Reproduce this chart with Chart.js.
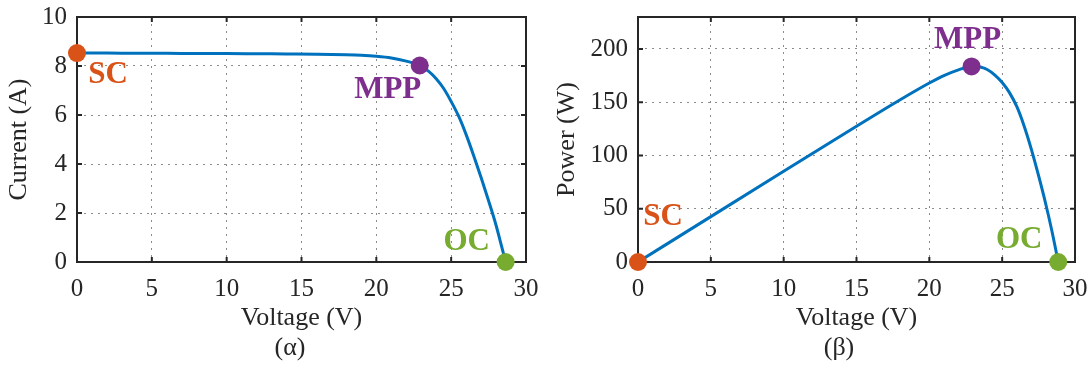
<!DOCTYPE html>
<html><head><meta charset="utf-8">
<script src="https://cdn.jsdelivr.net/npm/chart.js@4.4.1/dist/chart.umd.min.js"></script>
<style>
html,body{margin:0;padding:0;background:#fff;}
#wrap{position:relative;width:1091px;height:367px;overflow:hidden;background:#fff;}
canvas{position:absolute;top:0;}
</style></head><body>
<div id="wrap">
<canvas id="iv" width="545" height="367" style="left:0"></canvas>
<canvas id="pv" width="546" height="367" style="left:545px"></canvas>
</div>
<script>
// ---- data ----
const voltageTicks = [0, 5, 10, 15, 20, 25, 30];
const currentTicks = [0, 2, 4, 6, 8, 10];
const powerTicks = [0, 50, 100, 150, 200];

const ivVoltage = [0, 2, 4, 6, 8, 10, 12, 14, 16, 18, 19, 20, 21, 22, 22.9, 23.5, 24, 24.5, 25, 25.5, 26, 26.5, 27, 27.5, 28, 28.3, 28.64];
const ivCurrent = [8.53, 8.53, 8.52, 8.52, 8.51, 8.51, 8.50, 8.49, 8.48, 8.46, 8.44, 8.40, 8.33, 8.20, 8.02, 7.78, 7.48, 7.08, 6.55, 5.95, 5.2, 4.35, 3.45, 2.5, 1.5, 0.8, 0];

const pvVoltage = [0, 5, 10, 15, 18, 20, 21, 22, 22.9, 23.5, 24, 24.5, 25, 25.5, 26, 26.5, 27, 27.5, 28, 28.4, 28.85];
const pvPower = [0, 42.6, 85.1, 127.4, 152.3, 168, 175, 180.4, 183.6, 183, 180.5, 175.5, 168.5, 159, 146, 128, 106, 81, 54, 30, 0];

const pointNames = ['SC', 'MPP', 'OC'];
const ivPointV = [0, 22.9, 28.64];
const ivPointI = [8.53, 8.02, 0];
const pvPointV = [0, 22.9, 28.85];
const pvPointP = [0, 183.6, 0];

// ---- styles ----
const FONT = "'Liberation Serif', 'Times New Roman', Times, serif";
const INK = '#262626';
const pointColors = ['#D95319', '#7E2F8E', '#77AC30'];
Chart.defaults.font.family = FONT;
Chart.defaults.color = INK;

const framePlugin = {
  id: 'frame',
  beforeDatasetsDraw(chart, args, o) {
    const {ctx, chartArea: a, scales: {x, y}} = chart;
    ctx.save();
    ctx.strokeStyle = INK;
    ctx.lineWidth = 2;
    ctx.beginPath();
    o.xTicks.forEach(v => {
      const px = x.getPixelForValue(v);
      ctx.moveTo(px, a.bottom); ctx.lineTo(px, a.bottom - 5);
      ctx.moveTo(px, a.top); ctx.lineTo(px, a.top + 5);
    });
    o.yTicks.forEach(v => {
      const py = y.getPixelForValue(v);
      ctx.moveTo(a.left, py); ctx.lineTo(a.left + 5, py);
      ctx.moveTo(a.right, py); ctx.lineTo(a.right - 5, py);
    });
    ctx.stroke();
    ctx.strokeRect(a.left, a.top, a.right - a.left, a.bottom - a.top);
    ctx.restore();
  }
};

const labelPlugin = {
  id: 'ptLabels',
  afterDatasetsDraw(chart, args, o) {
    const {ctx, scales: {x, y}} = chart;
    ctx.save();
    ctx.font = 'bold 31px ' + FONT;
    ctx.textAlign = 'center';
    ctx.textBaseline = 'middle';
    o.items.forEach(it => {
      ctx.fillStyle = it.color;
      ctx.fillText(it.text, x.getPixelForValue(it.x) + it.dx, y.getPixelForValue(it.y) + it.dy);
    });
    ctx.font = '26px ' + FONT;
    ctx.fillStyle = INK;
    ctx.fillText(o.caption, o.captionX, o.captionY);
    ctx.restore();
  }
};

function makeChart(id, cfg) {
  const datasets = [{
    data: cfg.xs.map((v, i) => ({x: v, y: cfg.ys[i]})),
    showLine: true, borderColor: '#0072BD', borderWidth: 3, pointRadius: 0,
    cubicInterpolationMode: 'monotone', order: 2
  }];
  cfg.px.forEach((v, i) => datasets.push({
    data: [{x: v, y: cfg.py[i]}],
    pointRadius: 9, pointHoverRadius: 9, backgroundColor: pointColors[i],
    borderWidth: 0, clip: false, order: 1
  }));
  return new Chart(document.getElementById(id), {
    type: 'scatter',
    data: {datasets},
    options: {
      responsive: false, animation: false, devicePixelRatio: 1,
      layout: {padding: {left: 0, right: cfg.padRight, top: 17, bottom: 0}},
      plugins: {
        legend: {display: false}, tooltip: {enabled: false},
        frame: {xTicks: voltageTicks, yTicks: cfg.yTicks},
        ptLabels: {
          items: pointNames.map((n, i) => ({text: n, color: pointColors[i], x: cfg.px[i], y: cfg.py[i], dx: cfg.offsets[i][0], dy: cfg.offsets[i][1]})),
          caption: cfg.caption, captionX: cfg.captionX, captionY: 348
        }
      },
      scales: {
        x: {
          type: 'linear', min: 0, max: 30,
          afterBuildTicks: s => { s.ticks = voltageTicks.map(v => ({value: v})); },
          ticks: {padding: 12, font: {size: 25}, color: INK, maxRotation: 0, autoSkip: false},
          grid: {drawTicks: false, color: '#8c8c8c', lineWidth: 1},
          border: {display: false, dash: [2, 5]},
          title: {display: true, text: 'Voltage (V)', font: {size: 26}, color: INK, padding: {top: 0, bottom: 33}},
          afterFit: s => { s.height = 105; s.paddingLeft = 0; s.paddingRight = 0; }
        },
        y: {
          type: 'linear', min: 0, max: cfg.yMax,
          afterBuildTicks: s => { s.ticks = cfg.yTicks.map(v => ({value: v})); },
          ticks: {padding: 10, font: {size: 25}, color: INK, autoSkip: false},
          grid: {drawTicks: false, color: '#8c8c8c', lineWidth: 1},
          border: {display: false, dash: [2, 5]},
          title: {display: true, text: cfg.yTitle, font: {size: 26}, color: INK, padding: {top: cfg.yTitlePad, bottom: 0}},
          afterFit: s => { s.width = cfg.yWidth; s.paddingTop = 0; s.paddingBottom = 0; }
        }
      }
    },
    plugins: [framePlugin, labelPlugin]
  });
}

makeChart('iv', {
  xs: ivVoltage, ys: ivCurrent, px: ivPointV, py: ivPointI,
  yTicks: currentTicks, yMax: 10, yTitle: 'Current (A)', yTitlePad: 4, yWidth: 77, padRight: 19,
  offsets: [[31, 22], [-32, 24], [-39, -20]],
  caption: '(α)', captionX: 290
});
makeChart('pv', {
  xs: pvVoltage, ys: pvPower, px: pvPointV, py: pvPointP,
  yTicks: powerTicks, yMax: 230, yTitle: 'Power (W)', yTitlePad: 7, yWidth: 93, padRight: 16,
  offsets: [[25, -45], [-4, -26], [-39, -22]],
  caption: '(β)', captionX: 294
});
</script>
</body></html>
